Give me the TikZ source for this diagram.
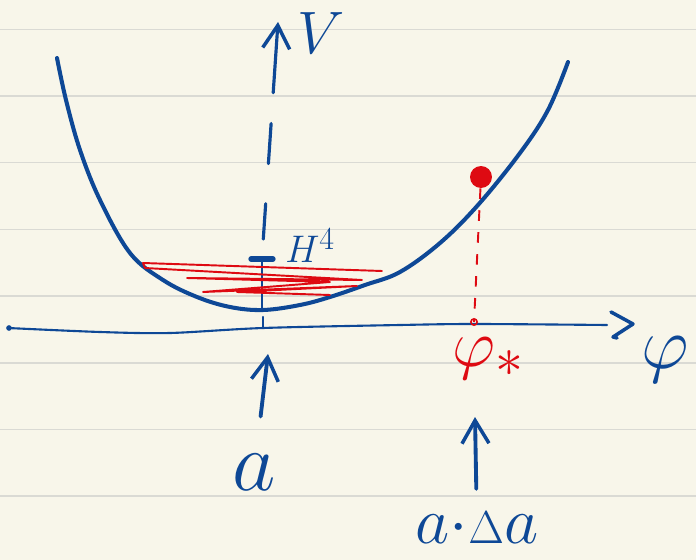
\documentclass[tikz,border=0pt]{standalone}
\usetikzlibrary{arrows.meta,positioning,calc}
\definecolor{paper}{RGB}{248,246,234}
\definecolor{rule}{RGB}{218,218,212}
\definecolor{pen}{RGB}{14,72,150}
\definecolor{redpen}{RGB}{222,10,18}
\tikzset{
  >={Straight Barb[length=4.6mm,width=5.4mm,line width=2pt]},
  ink/.style={draw=#1,line cap=round,line join=round},
  ink/.default=pen,
  hand/.style={text=#1,inner sep=0pt,font=\Huge,transform shape},
  hand/.default=pen,
  ball/.style={circle,fill=redpen,inner sep=0pt,minimum size=12.5pt},
  drop/.style={draw=redpen,line width=1.1pt,dash pattern=on 6pt off 6.5pt},
}

\begin{document}
\begin{tikzpicture}[x=0.02cm,y=-0.02cm]
  \fill[paper] (0,0) rectangle (696,560);
  \useasboundingbox (0,0) rectangle (696,560);
  \foreach \k in {0,...,7}
    \draw[rule,line width=0.9pt] (0,29.3+66.7*\k) -- (696,29.3+66.7*\k);

  % potential well
  \draw[ink,line width=2.3pt] plot[smooth,tension=0.6] coordinates {(57,58) (66,100) (80,150)
    (100,200) (130,253) (163,280) (197,297) (230,307) (263,310) (300,305) (330,297)
    (365,285) (400,272) (440,243) (478,205) (520,153) (548,110) (568,62)};

  % phi axis
  \fill[pen] (9,328) circle (1.6pt);
  \draw[ink,line width=1.2pt] plot[smooth,tension=0.5] coordinates {(8,328) (100,332)
    (170,333) (263,328) (400,325) (475,324) (607,325)};
  \draw[ink,line width=2pt] (611,312) -- (633,324) -- (613,337) -- (617,338);
  \node[hand,scale=1.69] (philab) at (665,360) {$\varphi$};

  % V axis
  \coordinate (vbar) at (262,258);
  \coordinate (vmin) at (262,310);
  \coordinate (vtip) at (278,22);
  \draw[ink,line width=1.8pt,->] ($(vbar)!0.70!(vtip)$) -- (vtip);
  \draw[ink,line width=1.8pt] ($(vbar)!0.40!(vtip)$) -- ($(vbar)!0.57!(vtip)$);
  \draw[ink,line width=1.8pt] ($(vbar)!0.08!(vtip)$) -- ($(vbar)!0.23!(vtip)$);
  \node[hand,scale=1.37] (Vlab) at (321,33) {$V$};

  % H^4 level
  \draw[ink,line width=3pt] (251,259) -- (273,259);
  \draw[ink,line width=1.3pt] (vbar) -- (vmin);
  \draw[ink,line width=1.3pt] (263,317) -- (263,328);
  \node[hand,scale=0.88,anchor=base west] (Hlab) at (285,263) {$H^4$};

  % oscillation
  \draw[ink=redpen,line width=1.1pt] (382,271) -- (143,263) -- (145,268) -- (362,280)
    -- (187,278) -- (330,282) -- (203,292) -- (357,286) -- (237,292) -- (330,295);

  % released point
  \node[ball] (ball) at (481,177) {};
  \coordinate (phistar) at (474,322);
  \draw[drop] (ball) -- (phistar);
  \draw[redpen,line width=0.9pt] (phistar) circle (1.8pt);
  \node[hand=redpen,scale=1.53,anchor=base west] (phistarlab) at (452,366) {$\varphi_*$};

  % initial values
  \node[hand,scale=1.93] (alab) at (254,472) {$a$};
  \coordinate (atip) at (268,354);
  \draw[ink,line width=2.2pt,->,shorten <=21pt] (alab) -- (atip);

  \node[hand,scale=1.52] (aDlab) at (477,528) {$a{\cdot}{\scriptscriptstyle\Delta}a$};
  \coordinate (aDtip) at (475,417);
  \draw[ink,line width=2.2pt,->,shorten <=13pt] (aDlab) -- (aDtip);
\end{tikzpicture}
\end{document}
